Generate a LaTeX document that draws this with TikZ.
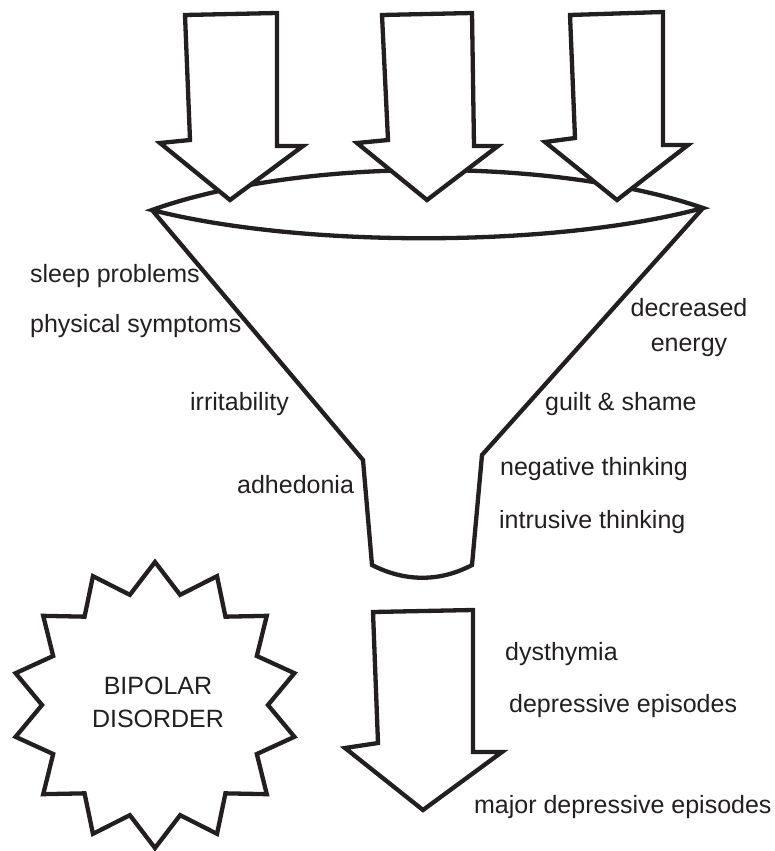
\documentclass[tikz,border=0pt]{standalone}
\usepackage{fontspec}
\setmainfont{Liberation Sans}
\definecolor{ink}{RGB}{35,31,32}
\begin{document}
\begin{tikzpicture}[x=1pt,y=-1pt,line width=4.3pt,line join=miter,
  lbl/.style={inner sep=0pt,text=ink,font=\fontsize{25}{33}\selectfont},
  outline/.style={draw=ink,fill=white},
  stroke/.style={draw=ink}]
\useasboundingbox (0,0) rectangle (774,851);
% funnel body
\draw[stroke] (152,210) -- (363,460) -- (372,565)
  .. controls (405,582) and (440,582) .. (472,565) -- (482,455) -- (703,208);
% funnel rim
\draw[outline] (152,210) .. controls (300,157) and (555,157) .. (703,208)
  .. controls (555,248) and (300,248) .. cycle;
% input arrows
\draw[outline] (185,15) -- (277,13) -- (277,146) -- (303,146) -- (230,200) -- (160,143) -- (190,140) -- cycle;
\draw[outline] (382,15) -- (472,13) -- (474,146) -- (498,146) -- (427,200) -- (357,143) -- (388,140) -- cycle;
\draw[outline] (570,15) -- (663,12) -- (663,145) -- (688,145) -- (617,200) -- (545,142) -- (575,138) -- cycle;
% output arrow
\draw[outline] (373,612) -- (473,610) -- (473,752) -- (502,752) -- (423,810) -- (345,748) -- (378,743) -- cycle;
% star
\draw[outline,shift={(155,705)}] (90:143)
  \foreach \k in {1,...,27} { -- ({90+\k*360/28}:{128+15*cos(\k*180)}) } -- cycle;
\node[lbl,align=center] (bipolar) at (158,702) {BIPOLAR\\DISORDER};
% left labels
\node[lbl,anchor=base west] (sleep) at (28,282) {sleep problems};
\node[lbl,anchor=base west] (physical) at (28,332) {physical symptoms};
\node[lbl,anchor=base west] (irrit) at (188,410) {irritability};
\node[lbl,anchor=base west] (adhed) at (235,493) {adhedonia};
% right labels
\node[lbl,align=center,font=\fontsize{25}{35}\selectfont] (energy) at (689,328) {decreased\\energy};
\node[lbl,anchor=base west] (guilt) at (543,410) {guilt \& shame};
\node[lbl,anchor=base west] (negative) at (498,475) {negative thinking};
\node[lbl,anchor=base west] (intrusive) at (497,528) {intrusive thinking};
\node[lbl,anchor=base west] (dysthymia) at (503,660) {dysthymia};
\node[lbl,anchor=base west] (depressive) at (507,712) {depressive episodes};
\node[lbl,anchor=base west] (major) at (472,813) {major depressive episodes};
\end{tikzpicture}
\end{document}
